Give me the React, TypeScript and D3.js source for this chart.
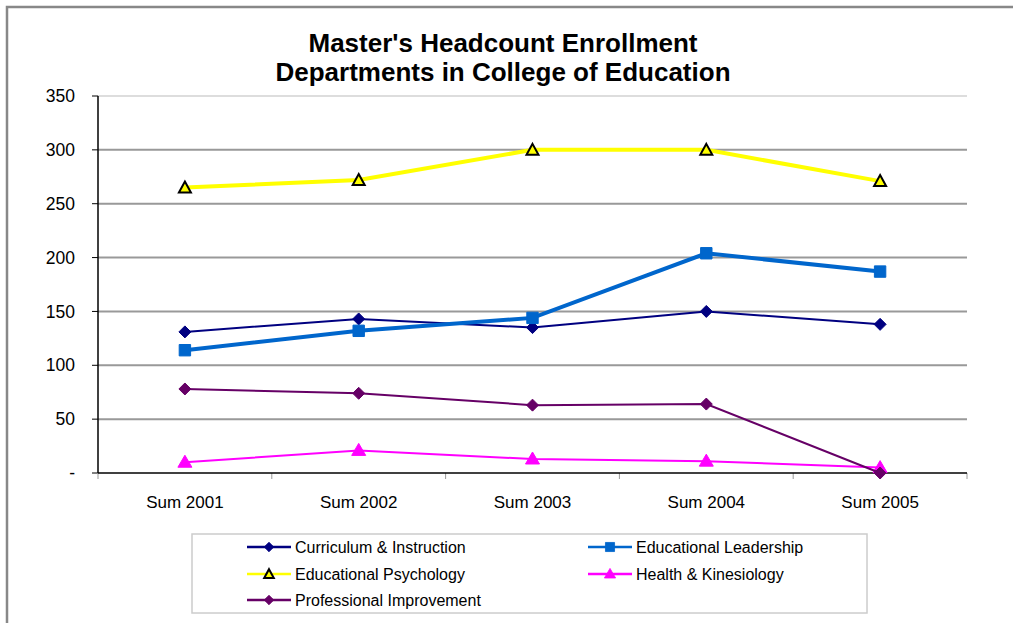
import React from "react";
import * as d3 from "d3";

const categories = ["Sum 2001", "Sum 2002", "Sum 2003", "Sum 2004", "Sum 2005"];
const curriculum = [131, 143, 135, 150, 138];
const leadership = [114, 132, 144, 204, 187];
const psychology = [265, 272, 300, 300, 271];
const health = [10, 21, 13, 11, 5];
const profImprovement = [78, 74, 63, 64, 0];
const yTicks = [0, 50, 100, 150, 200, 250, 300, 350];
const titleLines = ["Master's Headcount Enrollment", "Departments in College of Education"];

type Marker = "diamond" | "square" | "triangleOpen" | "triangle";
const series: { name: string; values: number[]; color: string; width: number; marker: Marker; mfill: string; mstroke: string }[] = [
  { name: "Curriculum & Instruction", values: curriculum, color: "#000080", width: 2, marker: "diamond", mfill: "#000080", mstroke: "#000080" },
  { name: "Educational Leadership", values: leadership, color: "#0066CC", width: 4, marker: "square", mfill: "#0066CC", mstroke: "#0066CC" },
  { name: "Educational Psychology", values: psychology, color: "#FFFF00", width: 4, marker: "triangleOpen", mfill: "#FFFF00", mstroke: "#000000" },
  { name: "Health & Kinesiology", values: health, color: "#FF00FF", width: 2, marker: "triangle", mfill: "#FF00FF", mstroke: "#FF00FF" },
  { name: "Professional Improvement", values: profImprovement, color: "#660066", width: 2, marker: "diamond", mfill: "#660066", mstroke: "#660066" },
];

const FONT = "'Liberation Sans', Arial, sans-serif";

function markerPath(m: Marker): string {
  if (m === "diamond") return "M0,-6L6,0L0,6L-6,0Z";
  if (m === "square") return d3.symbol(d3.symbolSquare, 130)()!;
  if (m === "triangle") return "M0,-7L7,5L-7,5Z";
  return "M0,-6L6,5L-6,5Z";
}

export default function App() {
  const left = 98, right = 967, top = 96, bottom = 473;
  const x = d3.scalePoint<string>().domain(categories).range([left, right]).padding(0.5);
  const y = d3.scaleLinear().domain([0, 350]).range([bottom, top]);
  const step = x.step();
  const line = d3.line<number>().x((_, i) => x(categories[i])!).y((v) => y(v));

  const legendPos = [
    [247, 547], [588, 547],
    [247, 574], [588, 574],
    [247, 600],
  ];

  return (
    <svg width={1013} height={623} style={{ position: "absolute", left: 0, top: 0, fontFamily: FONT }}>
      <rect x={0} y={0} width={1013} height={623} fill="#fff" />
      <path d="M7,640L7,7L1020,7" fill="none" stroke="#888" strokeWidth={2.5} />
      {titleLines.map((t, i) => (
        <text key={i} x={503} y={52 + i * 29} textAnchor="middle" fontSize={26} fontWeight="bold" fill="#000">{t}</text>
      ))}
      {yTicks.map((t) => (
        <g key={t}>
          {t > 0 && <line x1={left} x2={right} y1={y(t)} y2={y(t)} stroke={t === 350 ? "#ddd" : "#999"} strokeWidth={2} />}
          <line x1={left - 6} x2={left} y1={y(t)} y2={y(t)} stroke="#000" strokeWidth={1} />
          <text x={75} y={y(t)} dy="0.35em" textAnchor="end" fontSize={17.5} fill="#000">{t === 0 ? "-" : t}</text>
        </g>
      ))}
      {d3.range(categories.length + 1).map((i) => (
        <line key={i} x1={left + i * step} x2={left + i * step} y1={bottom} y2={bottom + 6} stroke="#999" strokeWidth={1} />
      ))}
      <line x1={left} x2={left} y1={top} y2={bottom} stroke="#000" strokeWidth={1.5} />
      <line x1={left} x2={right} y1={bottom} y2={bottom} stroke="#000" strokeWidth={1.5} />
      {categories.map((c) => (
        <text key={c} x={x(c)} y={508} textAnchor="middle" fontSize={17} fill="#000">{c}</text>
      ))}
      {series.map((s) => (
        <g key={s.name}>
          <path d={line(s.values)!} fill="none" stroke={s.color} strokeWidth={s.width} />
          {s.values.map((v, i) => (
            <path key={i} d={markerPath(s.marker)} transform={`translate(${x(categories[i])},${y(v)})`} fill={s.mfill} stroke={s.mstroke} strokeWidth={s.marker === "triangleOpen" ? 2 : 1} />
          ))}
        </g>
      ))}
      <rect x={192} y={534} width={675} height={79} fill="#fff" stroke="#ccc" strokeWidth={1.5} />
      {series.map((s, i) => {
        const [lx, ly] = legendPos[i];
        return (
          <g key={s.name}>
            <line x1={lx} x2={lx + 44} y1={ly} y2={ly} stroke={s.color} strokeWidth={2.5} />
            <path d={markerPath(s.marker)} transform={`translate(${lx + 22},${ly}) scale(0.8)`} fill={s.mfill} stroke={s.mstroke} strokeWidth={s.marker === "triangleOpen" ? 2.5 : 1} />
            <text x={lx + 48} y={ly} dy="0.35em" fontSize={16} fill="#000">{s.name}</text>
          </g>
        );
      })}
    </svg>
  );
}
